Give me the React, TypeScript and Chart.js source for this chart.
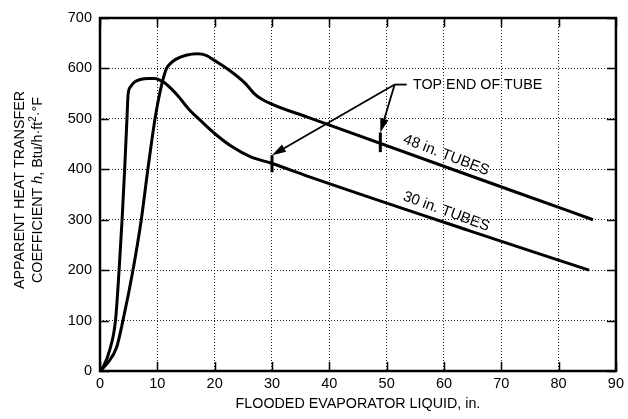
import { useEffect, useRef } from 'react';
import { Chart, registerables } from 'chart.js';

Chart.register(...registerables);

// ---- data ----
const xTickValues = [0, 10, 20, 30, 40, 50, 60, 70, 80, 90];
const yTickValues = [0, 100, 200, 300, 400, 500, 600, 700];

const tubes30X = [0, 0.6, 1.7, 2.7, 3.33, 3.85, 4.3, 4.7, 4.9, 5.3, 6.0, 7.0, 8.5, 9.5, 10.4, 11.2, 12.5, 13.8, 15.5, 17.6, 20.1, 23, 26.2, 29.9, 36.3, 64.5, 85.3];
const tubes30Y = [0, 9, 42, 100, 200, 300, 400, 500, 548, 563, 573, 578, 580, 580, 577, 572, 559, 543, 519, 496, 470, 445, 425, 412, 386, 278, 200];

const tubes48X = [0, 1.4, 2.9, 4.0, 5.75, 7.2, 8.35, 9.6, 10.6, 11.6, 12.3, 13.2, 15, 17, 18.5, 20.1, 22.5, 25.3, 27.1, 29.4, 36.3, 72.5, 86];
const tubes48Y = [0, 17, 47, 100, 200, 300, 400, 500, 560, 600, 610, 618, 626, 629, 626, 615, 597, 571, 548, 532, 503, 355, 300];

// top-of-tube marks: [x, yLow, yHigh]
const tubeEndMark30 = [30, 394, 428];
const tubeEndMark48 = [48.9, 434, 473];

// callout
const calloutLabel = 'TOP END OF TUBE';
const calloutAnchor = [51.4, 568];
const calloutLeaderEnd = [53.5, 568];
const calloutTextPos = [54.6, 568];
const arrowTips = [[30, 428], [48.9, 473]];

// curve labels
const label48 = '48 in. TUBES';
const label48Pos = [60.4, 428];
const label30 = '30 in. TUBES';
const label30Pos = [60.4, 316];

const xTitle = 'FLOODED EVAPORATOR LIQUID, in.';
const yTitleLine1 = 'APPARENT HEAT TRANSFER';

const FONT = "'Liberation Sans', Arial, Helvetica, sans-serif";

function drawArrow(ctx: CanvasRenderingContext2D, x0: number, y0: number, x1: number, y1: number) {
  const ang = Math.atan2(y1 - y0, x1 - x0);
  const len = 14;
  const hw = 4.2;
  const bx = x1 - len * Math.cos(ang);
  const by = y1 - len * Math.sin(ang);
  ctx.beginPath();
  ctx.moveTo(x0, y0);
  ctx.lineTo(bx, by);
  ctx.stroke();
  ctx.beginPath();
  ctx.moveTo(x1, y1);
  ctx.lineTo(bx + hw * Math.sin(ang), by - hw * Math.cos(ang));
  ctx.lineTo(bx - hw * Math.sin(ang), by + hw * Math.cos(ang));
  ctx.closePath();
  ctx.fill();
}

const decorPlugin = {
  id: 'decor',
  afterDraw(chart: any) {
    const ctx: CanvasRenderingContext2D = chart.ctx;
    const xs = chart.scales.x;
    const ys = chart.scales.y;
    const a = chart.chartArea;
    const px = (v: number) => xs.getPixelForValue(v);
    const py = (v: number) => ys.getPixelForValue(v);
    ctx.save();
    ctx.strokeStyle = '#000';
    ctx.fillStyle = '#000';

    // inner tick marks on all four sides
    ctx.lineWidth = 1.5;
    const tl = 9;
    ctx.beginPath();
    xTickValues.forEach((v) => {
      const x = Math.round(px(v)) + 0.5;
      ctx.moveTo(x, a.bottom);
      ctx.lineTo(x, a.bottom - tl);
      ctx.moveTo(x, a.top);
      ctx.lineTo(x, a.top + tl);
    });
    yTickValues.forEach((v) => {
      const y = Math.round(py(v)) + 0.5;
      ctx.moveTo(a.left, y);
      ctx.lineTo(a.left + tl, y);
      ctx.moveTo(a.right, y);
      ctx.lineTo(a.right - tl, y);
    });
    ctx.stroke();

    // frame
    ctx.lineWidth = 2.5;
    ctx.strokeRect(a.left, a.top, a.right - a.left, a.bottom - a.top);

    // top-of-tube marks
    ctx.lineWidth = 3;
    [tubeEndMark30, tubeEndMark48].forEach(([x, y0, y1]) => {
      ctx.beginPath();
      ctx.moveTo(px(x), py(y0));
      ctx.lineTo(px(x), py(y1));
      ctx.stroke();
    });

    // callout arrows
    ctx.lineWidth = 1.8;
    const ax = px(calloutAnchor[0]);
    const ay = py(calloutAnchor[1]);
    ctx.beginPath();
    ctx.moveTo(ax, ay);
    ctx.lineTo(px(calloutLeaderEnd[0]), py(calloutLeaderEnd[1]));
    ctx.stroke();
    arrowTips.forEach(([tx, ty]) => drawArrow(ctx, ax, ay, px(tx), py(ty)));

    ctx.font = `14.3px ${FONT}`;
    ctx.textAlign = 'left';
    ctx.textBaseline = 'middle';
    ctx.fillText(calloutLabel, px(calloutTextPos[0]), py(calloutTextPos[1]));

    // curve labels
    ctx.font = `15px ${FONT}`;
    ctx.textAlign = 'center';
    const drawRot = (t: string, pos: number[], deg: number) => {
      ctx.save();
      ctx.translate(px(pos[0]), py(pos[1]));
      ctx.rotate((deg * Math.PI) / 180);
      ctx.fillText(t, 0, 0);
      ctx.restore();
    };
    drawRot(label48, label48Pos, 21);
    drawRot(label30, label30Pos, 20);

    // x title
    ctx.font = `14.3px ${FONT}`;
    ctx.textAlign = 'center';
    ctx.textBaseline = 'middle';
    ctx.fillText(xTitle, (a.left + a.right) / 2, 404);

    // y title
    ctx.save();
    ctx.translate(20, 190);
    ctx.rotate(-Math.PI / 2);
    ctx.fillText(yTitleLine1, 0, 0);
    ctx.restore();

    const parts: [string, string, number][] = [
      ['COEFFICIENT ', `14.3px ${FONT}`, 0],
      ['h', `italic 14.3px ${FONT}`, 0],
      [', Btu/h·ft', `14.3px ${FONT}`, 0],
      ['2', `10px ${FONT}`, -5],
      ['·°F', `14.3px ${FONT}`, 0],
    ];
    let total = 0;
    parts.forEach(([t, f]) => {
      ctx.font = f;
      total += ctx.measureText(t).width;
    });
    ctx.save();
    ctx.translate(38, 190);
    ctx.rotate(-Math.PI / 2);
    ctx.textAlign = 'left';
    let cx = -total / 2;
    parts.forEach(([t, f, dy]) => {
      ctx.font = f;
      ctx.fillText(t, cx, dy);
      cx += ctx.measureText(t).width;
    });
    ctx.restore();

    ctx.restore();
  },
};

export default function App() {
  const ref = useRef<HTMLCanvasElement | null>(null);
  useEffect(() => {
    if (!ref.current) return;
    Chart.defaults.font.family = FONT;
    const chart = new Chart(ref.current, {
      type: 'line',
      data: {
        datasets: [
          {
            label: '30 in. TUBES',
            data: tubes30X.map((x, i) => ({ x, y: tubes30Y[i] })),
            borderColor: '#000',
            borderWidth: 3,
            pointRadius: 0,
            fill: false,
            cubicInterpolationMode: 'monotone',
          },
          {
            label: '48 in. TUBES',
            data: tubes48X.map((x, i) => ({ x, y: tubes48Y[i] })),
            borderColor: '#000',
            borderWidth: 3,
            pointRadius: 0,
            fill: false,
            cubicInterpolationMode: 'monotone',
          },
        ],
      },
      options: {
        animation: false,
        responsive: false,
        maintainAspectRatio: false,
        layout: { padding: { top: 18, right: 7, left: 0, bottom: 0 } },
        plugins: { legend: { display: false }, tooltip: { enabled: false } },
        scales: {
          x: {
            type: 'linear',
            min: 0,
            max: 90,
            afterBuildTicks: (s: any) => {
              s.ticks = xTickValues.map((v) => ({ value: v }));
            },
            afterFit: (s: any) => {
              s.height = 48;
            },
            grid: { color: '#222', lineWidth: 1, drawTicks: false },
            border: { display: false, dash: [1, 2] },
            ticks: { padding: 4, color: '#000', font: { size: 14.5 }, maxRotation: 0 },
          },
          y: {
            type: 'linear',
            min: 0,
            max: 700,
            afterBuildTicks: (s: any) => {
              s.ticks = yTickValues.map((v) => ({ value: v }));
            },
            afterFit: (s: any) => {
              s.width = 100;
            },
            grid: { color: '#222', lineWidth: 1, drawTicks: false },
            border: { display: false, dash: [1, 2] },
            ticks: { padding: 8, color: '#000', font: { size: 14.5 } },
          },
        },
      },
      plugins: [decorPlugin],
    } as any);
    return () => chart.destroy();
  }, []);
  return (
    <div style={{ position: 'fixed', left: 0, top: 0, width: 628, height: 419, background: '#fff' }}>
      <canvas ref={ref} width={628} height={419} style={{ display: 'block' }} />
    </div>
  );
}
